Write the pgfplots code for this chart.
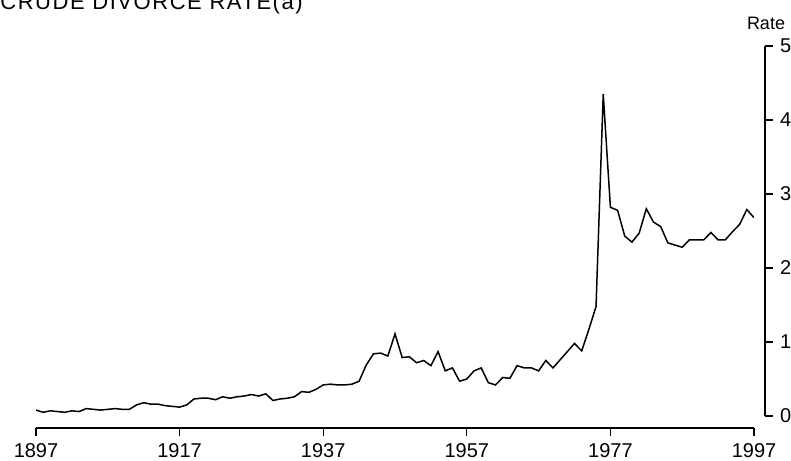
\documentclass[border=0pt]{standalone}
\usepackage{fontspec}
\setmainfont{Liberation Sans}
\usepackage{pgfplots}
\pgfplotsset{compat=1.18}
\begin{document}
\begin{tikzpicture}
\begin{axis}[
  name=ax,
  width=359pt, height=185pt, scale only axis,
  xmin=1897, xmax=1997, ymin=0, ymax=5,
  axis x line=bottom, axis y line=right,
  axis x line shift=6pt, axis y line shift=5.5pt,
  axis line style={-, line width=0.65pt},
  xtick={1897,1917,...,1997}, ytick={0,1,...,5},
  tick align=outside, major tick length=4pt,
  tick style={black, line width=0.65pt},
  minor tick num=0,
  ticklabel style={font=\fontsize{10}{12}\selectfont},
  /pgf/number format/assume math mode=true,
  x tick label style={/pgf/number format/1000 sep={}},
]
\addplot[black, line width=0.75pt, mark=none] coordinates {
(1897,0.08) (1898,0.05) (1899,0.07) (1900,0.06) (1901,0.05) (1902,0.07)
(1903,0.06) (1904,0.10) (1905,0.09) (1906,0.08) (1907,0.09) (1908,0.10)
(1909,0.09) (1910,0.09) (1911,0.15) (1912,0.18) (1913,0.16) (1914,0.16)
(1915,0.14) (1916,0.13) (1917,0.12) (1918,0.15) (1919,0.23) (1920,0.24)
(1921,0.24) (1922,0.22) (1923,0.26) (1924,0.24) (1925,0.26) (1926,0.27)
(1927,0.29) (1928,0.27) (1929,0.30) (1930,0.21) (1931,0.23) (1932,0.24)
(1933,0.26) (1934,0.33) (1935,0.32) (1936,0.36) (1937,0.42) (1938,0.43)
(1939,0.42) (1940,0.42) (1941,0.43) (1942,0.47) (1943,0.69) (1944,0.84)
(1945,0.85) (1946,0.81) (1947,1.11) (1948,0.79) (1949,0.80) (1950,0.72)
(1951,0.75) (1952,0.68) (1953,0.87) (1954,0.61) (1955,0.65) (1956,0.47)
(1957,0.50) (1958,0.61) (1959,0.65) (1960,0.45) (1961,0.42) (1962,0.52)
(1963,0.51) (1964,0.68) (1965,0.65) (1966,0.65) (1967,0.61) (1968,0.75)
(1969,0.65) (1970,0.76) (1971,0.87) (1972,0.98) (1973,0.88) (1974,1.17)
(1975,1.48) (1976,4.35) (1977,2.82) (1978,2.78) (1979,2.43) (1980,2.35)
(1981,2.47) (1982,2.80) (1983,2.62) (1984,2.56) (1985,2.34) (1986,2.31)
(1987,2.28) (1988,2.38) (1989,2.38) (1990,2.38) (1991,2.48) (1992,2.38)
(1993,2.38) (1994,2.49) (1995,2.59) (1996,2.79) (1997,2.68)
};
\end{axis}
\node[anchor=base, font=\fontsize{9}{11}\selectfont, inner sep=0pt]
  at ([shift={(6pt,8pt)}]ax.north east) {Rate};
\node[anchor=base west, inner sep=0pt,
  font=\fontsize{11}{13}\selectfont\addfontfeature{LetterSpace=7}]
  at ([shift={(-18pt,18.3pt)}]ax.north west) {CRUDE DIVORCE RATE(a)};
\pgfresetboundingbox
\path[use as bounding box] ([shift={(-18pt,-22pt)}]ax.south west)
  rectangle ([shift={(18.5pt,23pt)}]ax.north east);
\end{tikzpicture}
\end{document}
